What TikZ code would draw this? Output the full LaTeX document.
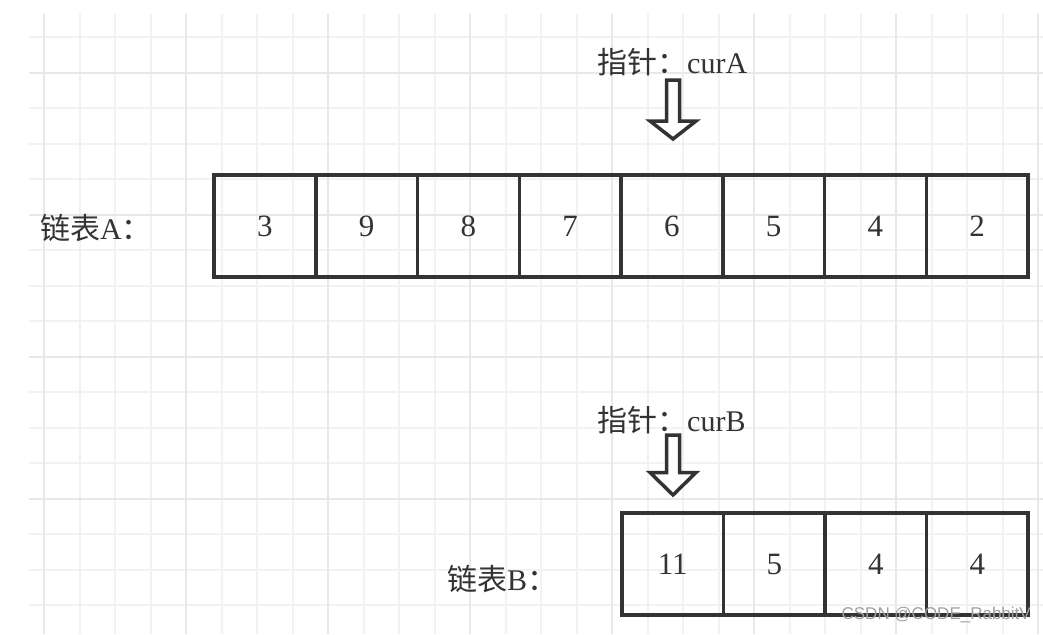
\documentclass[tikz,border=0pt]{standalone}
\usepackage{fontspec}
\setmainfont{Liberation Serif}
\newfontfamily\cjk{Noto Sans CJK SC}
\newfontfamily\wmfont{Liberation Sans}
\definecolor{ink}{HTML}{333333}
\definecolor{gridminor}{HTML}{F2F2F2}
\definecolor{gridmajor}{HTML}{E8E8E8}
\begin{document}
\begin{tikzpicture}[x=1pt,y=-1pt,
  cell/.style={draw=ink, line width=3.5pt, minimum width=101.75pt, minimum height=102pt,
    inner sep=0pt, font=\fontsize{31}{31}\selectfont, text=ink},
  lbl/.style={anchor=west, inner sep=0pt, font=\fontsize{30}{30}\selectfont, text=ink},
  blockarrow/.style={draw=ink, line width=3.5pt, line join=miter, fill=white},
  minorline/.style={draw=gridminor, line width=2pt},
  majorline/.style={draw=gridmajor, line width=2pt}]
\useasboundingbox (0,0) rectangle (1043,634);
\fill[white] (0,0) rectangle (1043,634);
% grid
\foreach \i in {0,...,16} \draw[minorline] (29,{37+35.5*\i}) -- (1043,{37+35.5*\i});
\foreach \j in {0,...,28} \draw[minorline] ({44+35.5*\j},14) -- ({44+35.5*\j},634);
\foreach \i in {1,5,9,13} \draw[majorline] (29,{37+35.5*\i}) -- (1043,{37+35.5*\i});
\foreach \j in {0,4,...,28} \draw[majorline] ({44+35.5*\j},14) -- ({44+35.5*\j},634);
% list A
\foreach \v [count=\i] in {3,9,8,7,6,5,4,2}
  \node[cell] (a\i) at ({214+101.75*(\i-0.5)},226) {\v};
% list B
\foreach \v [count=\i] in {11,5,4,4}
  \node[cell, minimum width=101.5pt] (b\i) at ({622+101.5*(\i-0.5)},564) {\v};
% labels
\node[lbl] (labA) at (40,228) {{\cjk 链表}A{\cjk ：}};
\node[lbl] (labB) at (447,579) {{\cjk 链表}B{\cjk ：}};
\node[lbl] (ptrA) at (597,62) {{\cjk 指针：}curA};
\node[lbl] (ptrB) at (597,420) {{\cjk 指针：}curB};
% block arrows
\draw[blockarrow, shift={(673,0)}] (-6.5,80) -- (6.5,80) -- (6.5,121) -- (23,121) -- (0,139) -- (-23,121) -- (-6.5,121) -- cycle;
\draw[blockarrow, shift={(673,0)}] (-6.5,435) -- (6.5,435) -- (6.5,472.5) -- (23,472.5) -- (0,495) -- (-23,472.5) -- (-6.5,472.5) -- cycle;
% watermark
\node[font=\wmfont\fontsize{17}{17}\selectfont, text=gray!75, anchor=east, inner sep=0pt] (wm) at (1031,615) {CSDN @CODE\_RabbitV};
\end{tikzpicture}
\end{document}
